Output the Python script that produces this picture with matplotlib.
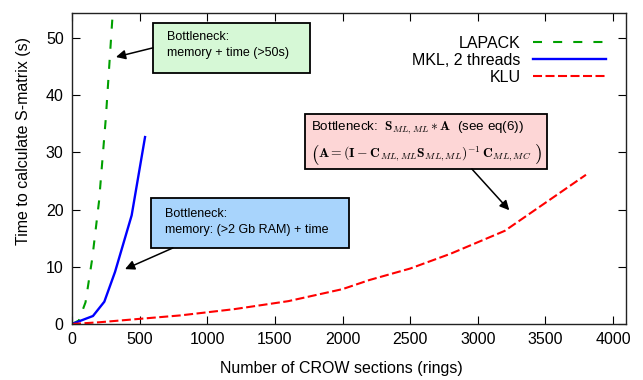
import matplotlib
matplotlib.use('Agg')
import matplotlib.pyplot as plt
from matplotlib.patches import Rectangle

plt.rcParams['font.family'] = ['Liberation Sans', 'DejaVu Sans']
plt.rcParams['mathtext.fontset'] = 'cm'
plt.rcParams['lines.scale_dashes'] = False

# data
lapack_n = [0, 50, 100, 150, 200, 250, 300, 350]
lapack_t = [0, 0.6, 3.8, 11.5, 21.5, 36, 54, 75]

mkl_n = [0, 155, 239, 318, 441, 540]
mkl_t = [0, 1.4, 3.9, 9.1, 19.0, 32.7]

klu_n = [0, 200, 400, 800, 1200, 1600, 2000, 2200, 2500, 2800, 3200, 3800]
klu_t = [0, 0.3, 0.7, 1.5, 2.6, 4.0, 6.1, 7.7, 9.7, 12.3, 16.3, 26.1]

xticks = [0, 500, 1000, 1500, 2000, 2500, 3000, 3500, 4000]
yticks = [0, 10, 20, 30, 40, 50]

fig = plt.figure(figsize=(6.43, 3.8), dpi=100)
ax = fig.add_axes([72 / 643, 1 - 324 / 380, 554 / 643, 311 / 380])

ax.plot(lapack_n, lapack_t, color='#00a000', lw=1.5, dashes=(6.5, 8), label='LAPACK')
ax.plot(mkl_n, mkl_t, color='#0000ff', lw=1.7, label='MKL, 2 threads')
ax.plot(klu_n, klu_t, color='#ff0000', lw=1.5, dashes=(6.5, 2.5), label='KLU')

ax.set_xlim(0, 4096)
ax.set_ylim(0, 54.4)
ax.set_xticks(xticks)
ax.set_yticks(yticks)
ax.tick_params(direction='in', length=5.5, width=0.8, top=True, right=True,
               labelsize=11.5, pad=6, colors='black')
for s in ax.spines.values():
    s.set_linewidth(1.0)
    s.set_color('#222222')

ax.set_xlabel('Number of CROW sections (rings)', fontsize=11.5)
ax.set_ylabel('Time to calculate S-matrix (s)', fontsize=11.5)
ax.xaxis.label.set_va('center')
ax.xaxis.set_label_coords(0.487, -0.1415)
ax.yaxis.label.set_va('center')
ax.yaxis.set_label_coords(-0.0884, 0.59)

ax.legend(loc='upper right', bbox_to_anchor=(606 / 643, 1 - 36 / 380),
          bbox_transform=fig.transFigure, frameon=False, markerfirst=False,
          fontsize=11.5, handlelength=4.6, handletextpad=0.75,
          labelspacing=0.12, borderpad=0, borderaxespad=0)

arrow = dict(arrowstyle='-|>', color='black', lw=1.1, mutation_scale=14,
             shrinkA=0, shrinkB=0)

# green note
ax.add_patch(Rectangle((0.1462, 0.8071), 0.2834, 0.1607, transform=ax.transAxes,
                       facecolor='#d6f8d6', edgecolor='black', lw=1.3, zorder=5))
ax.text(0.1715, 0.8971, 'Bottleneck:\nmemory + time (>50s)', transform=ax.transAxes,
        fontsize=9, va='center', ha='left', linespacing=1.45, zorder=6)
ax.annotate('', xy=(325, 46.7), xytext=(0.1462, 0.888), textcoords='axes fraction',
            arrowprops=arrow, zorder=6)

# blue note
ax.add_patch(Rectangle((0.1426, 0.2444), 0.3574, 0.1607, transform=ax.transAxes,
                       facecolor='#a8d4fc', edgecolor='black', lw=1.3, zorder=5))
ax.text(0.1679, 0.328, 'Bottleneck:\nmemory: (>2 Gb RAM) + time', transform=ax.transAxes,
        fontsize=9, va='center', ha='left', linespacing=1.45, zorder=6)
ax.annotate('', xy=(392, 9.6), xytext=(0.182, 0.2444), textcoords='axes fraction',
            arrowprops=arrow, zorder=6)

# red note
ax.add_patch(Rectangle((0.4206, 0.4984), 0.4368, 0.1768, transform=ax.transAxes,
                       facecolor='#fdd6d6', edgecolor='black', lw=1.3, zorder=5))
ax.text(0.4309, 0.630, r'Bottleneck:  $\mathbf{S}_{ML,ML} * \mathbf{A}$  (see eq(6))',
        transform=ax.transAxes, fontsize=9.6, va='center', ha='left', zorder=6)
lp = ax.text(0.4309, 0.5466, r'$($', transform=ax.transAxes, fontsize=14,
             va='center', ha='left', zorder=6)
body = ax.text(0.4445, 0.5466,
               r'$\mathbf{A} = (\mathbf{I} - \mathbf{C}_{ML,ML}\mathbf{S}_{ML,ML})^{-1}\,\mathbf{C}_{ML,MC}$',
               transform=ax.transAxes, fontsize=9.8, va='center', ha='left', zorder=6)
r = fig.canvas.get_renderer()
bb = body.get_window_extent(r).transformed(ax.transAxes.inverted())
ax.text(bb.x1 + 0.004, 0.5466, r'$)$', transform=ax.transAxes, fontsize=14,
        va='center', ha='left', zorder=6)
ax.annotate('', xy=(3233, 19.9), xytext=(0.7218, 0.4984), textcoords='axes fraction',
            arrowprops=arrow, zorder=6)

fig.savefig('out.png', dpi=100)
